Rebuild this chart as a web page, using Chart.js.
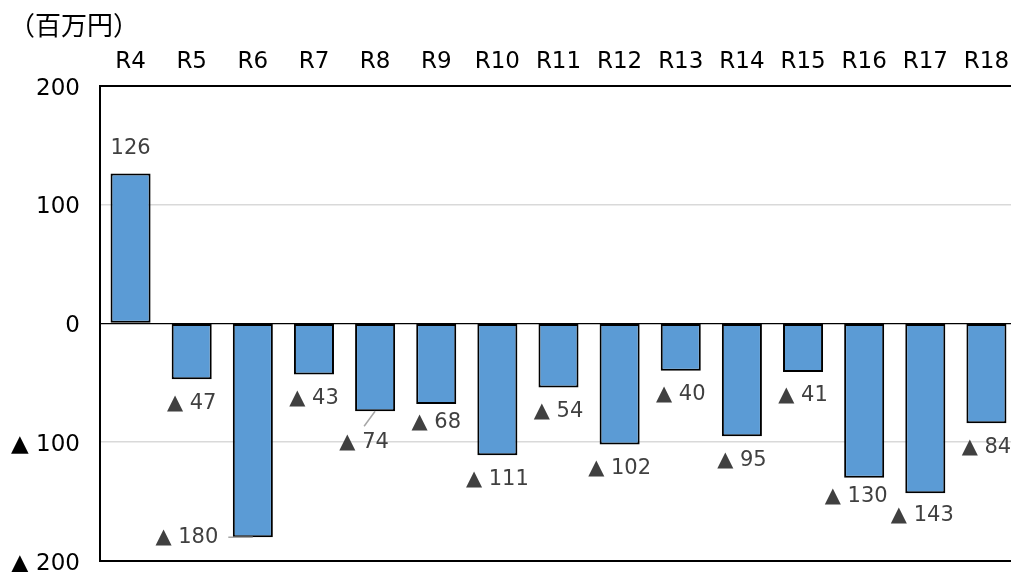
<!DOCTYPE html>
<html>
<head>
<meta charset="utf-8">
<script src="https://cdn.jsdelivr.net/npm/chart.js@4.4.1/dist/chart.umd.min.js"></script>
<style>
  html, body { margin: 0; padding: 0; background: #fff; overflow: hidden; }
  #wrap { width: 1020px; height: 572px; overflow: hidden; }
</style>
</head>
<body>
<div id="wrap"><canvas id="chart" width="1020" height="600"></canvas></div>
<script>
const categories = ['R4', 'R5', 'R6', 'R7', 'R8', 'R9', 'R10', 'R11', 'R12', 'R13', 'R14', 'R15', 'R16', 'R17', 'R18'];
const values = [126, -47, -180, -43, -74, -68, -111, -54, -102, -40, -95, -41, -130, -143, -84];
const yTicks = [200, 100, 0, -100, -200];
const unitLabel = '（百万円）';

const FONT = "'DejaVu Sans', 'Noto Sans CJK JP', sans-serif";

// 数値の表示（マイナスは▲）
function fmt(v) {
    return v < 0 ? '▲ ' + Math.abs(v) : String(v);
}

// ラベル位置の微調整（Excel 側で手動で動かしたもの）
const labelShift = {
    2: { dx: -66, dy: 0, leader: 'side' },
    4: { dx: -11, dy: 31, leader: 'up' },
    5: { dx: 0, dy: 18 },
    12: { dx: -8, dy: 19 },
    13: { dx: -3, dy: 22 }
};

const dataLabels = {
    id: 'dataLabels',
    afterDatasetsDraw(chart) {
        const ctx = chart.ctx;
        const meta = chart.getDatasetMeta(0);
        ctx.save();
        ctx.font = '21px ' + FONT;
        ctx.fillStyle = '#404040';
        ctx.textAlign = 'center';
        ctx.textBaseline = 'middle';
        meta.data.forEach((bar, i) => {
            const v = values[i];
            const s = labelShift[i] || {};
            let x = bar.x + (s.dx || 0);
            let y;
            if (s.dy !== undefined) {
                y = v < 0 ? bar.y + s.dy : bar.y - s.dy;
            } else {
                y = v < 0 ? bar.y + 24 : bar.y - 25;
            }
            const text = fmt(v);
            ctx.fillText(text, x, y);
            if (s.leader) {
                const w = ctx.measureText(text).width;
                ctx.strokeStyle = '#a6a6a6';
                ctx.lineWidth = 1.5;
                ctx.beginPath();
                if (s.leader === 'side') {
                    ctx.moveTo(x + w / 2 + 10, y);
                } else {
                    ctx.moveTo(x, y - 16);
                }
                ctx.lineTo(bar.x, bar.y);
                ctx.stroke();
            }
        });
        ctx.restore();
    }
};

// 単位の表示（左上）
const unitTitle = {
    id: 'unitTitle',
    afterDraw(chart) {
        const ctx = chart.ctx;
        ctx.save();
        ctx.font = "26px 'Noto Sans CJK JP', sans-serif";
        ctx.fillStyle = '#000';
        ctx.textAlign = 'left';
        ctx.textBaseline = 'middle';
        ctx.fillText(unitLabel, 9, 25);
        ctx.restore();
    }
};

new Chart(document.getElementById('chart'), {
    type: 'bar',
    data: {
        labels: categories,
        datasets: [{
            data: values,
            backgroundColor: '#5b9bd5',
            borderColor: '#000000',
            borderWidth: 2,
            borderSkipped: false,
            categoryPercentage: 1,
            barPercentage: 0.655
        }]
    },
    options: {
        responsive: false,
        animation: false,
        layout: { padding: { top: 38, right: 3, bottom: 39, left: 0 } },
        plugins: {
            legend: { display: false },
            tooltip: { enabled: false },
            title: { display: false }
        },
        scales: {
            x: {
                position: 'top',
                grid: { display: false, drawTicks: false },
                border: { color: '#000', width: 2 },
                ticks: {
                    color: '#000',
                    padding: 10,
                    font: { family: FONT, size: 23 }
                }
            },
            y: {
                min: -200,
                max: 200,
                afterBuildTicks: (scale) => {
                    scale.ticks = yTicks.map(v => ({ value: v }));
                },
                afterFit: (scale) => { scale.width = 100; },
                border: { color: '#000', width: 2 },
                grid: {
                    drawTicks: false,
                    color: (c) => {
                        const v = c.tick.value;
                        if (v === 0 || v === 200 || v === -200) return '#000';
                        return '#d9d9d9';
                    },
                    lineWidth: (c) => {
                        const v = c.tick.value;
                        if (v === 200 || v === -200) return 2;
                        if (v === 0) return 1.3;
                        return 1.5;
                    }
                },
                ticks: {
                    color: '#000',
                    padding: 20,
                    labelOffset: 3,
                    font: { family: FONT, size: 23 },
                    callback: (v) => fmt(v)
                }
            }
        }
    },
    plugins: [dataLabels, unitTitle]
});
</script>
</body>
</html>
